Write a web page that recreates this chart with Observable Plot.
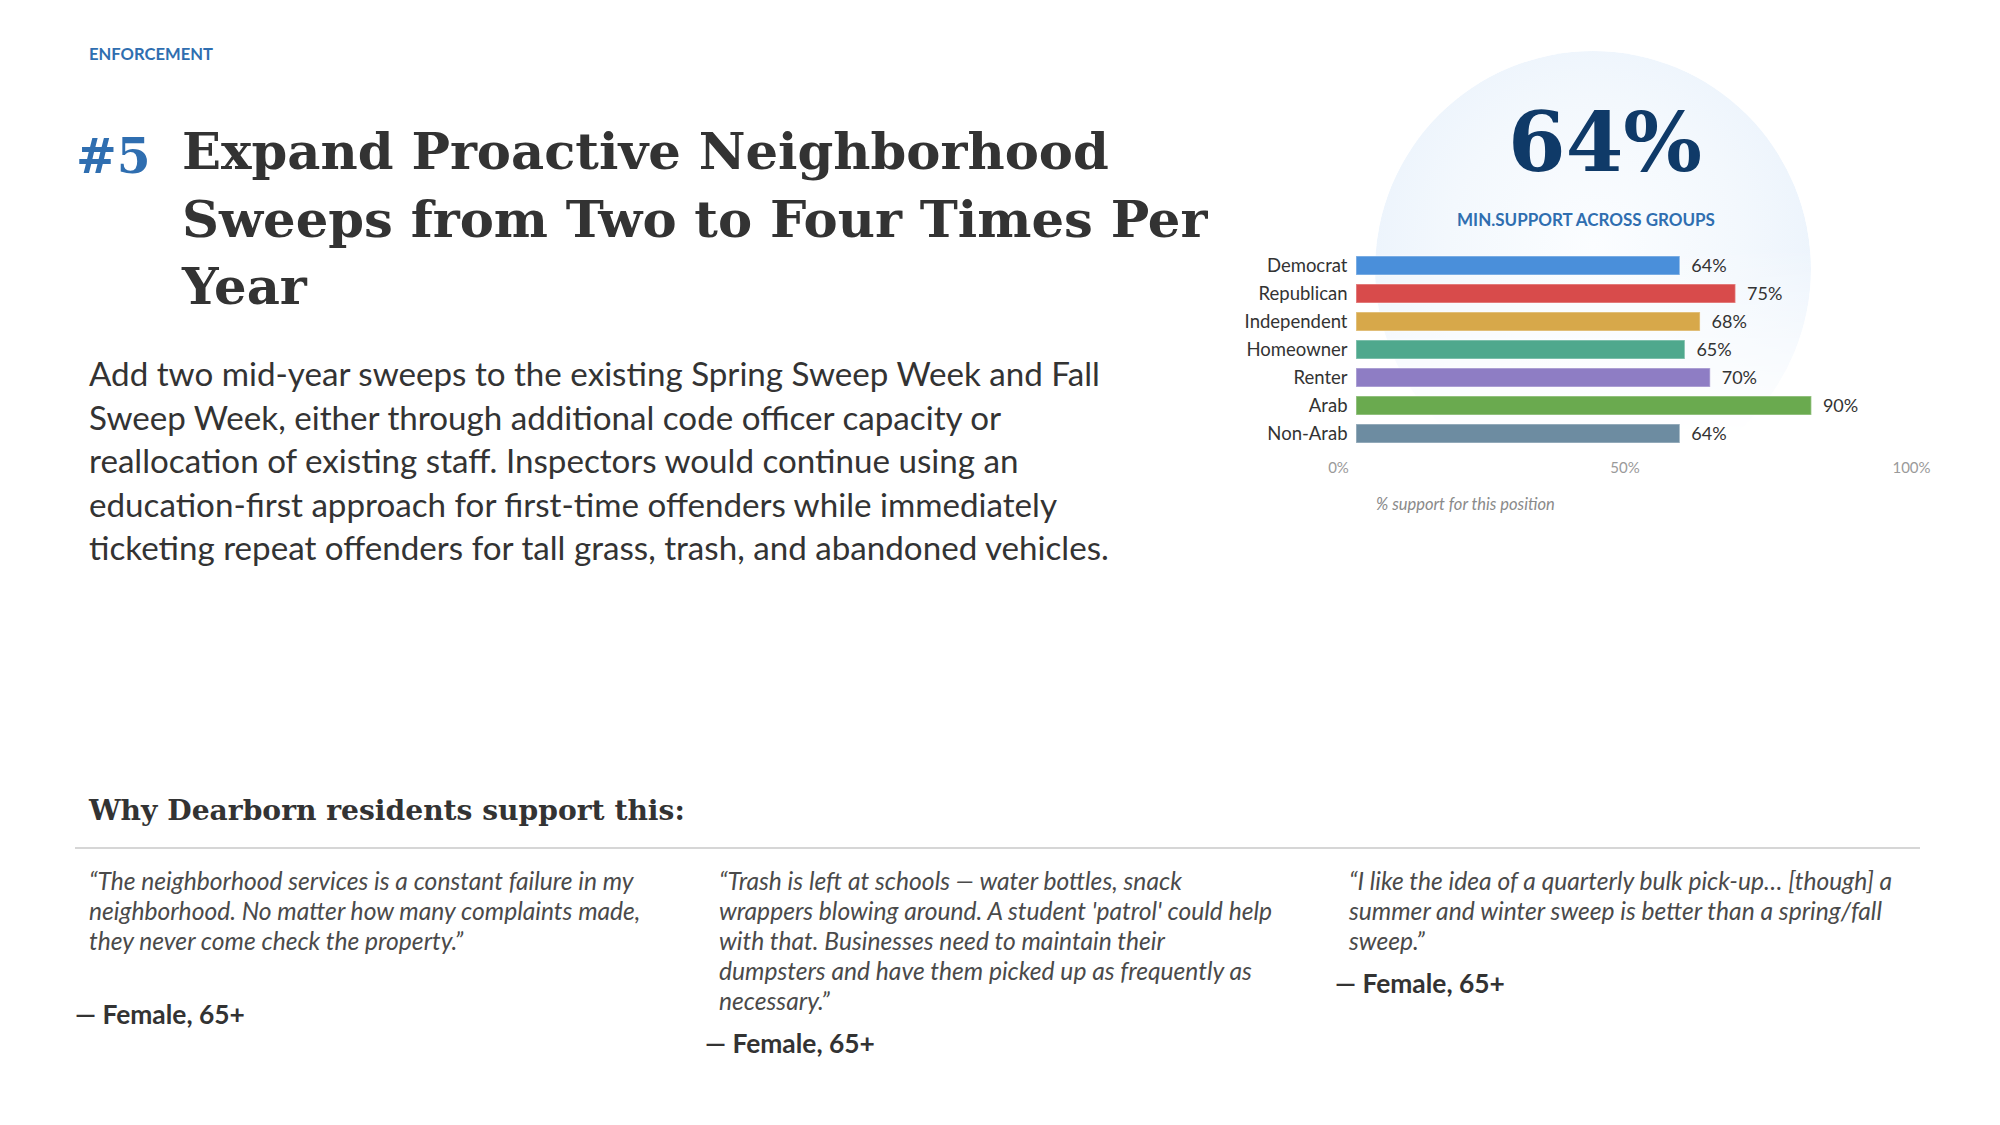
<!DOCTYPE html>
<html>
<head>
<meta charset="utf-8">
<script src="https://cdn.jsdelivr.net/npm/d3@7"></script>
<script src="https://cdn.jsdelivr.net/npm/@observablehq/plot@0.6"></script>
<style>
  html, body { margin: 0; padding: 0; background: #ffffff; }
  #page { position: relative; width: 2000px; height: 1125px; overflow: hidden; background: #fff; }
  .t { position: absolute; white-space: nowrap; line-height: 1; }
  .sans { font-family: Lato, "Open Sans", sans-serif; }
  .serif { font-family: "DejaVu Serif", serif; font-weight: bold; }
  #circle { position: absolute; left: 1375px; top: 51px; width: 436px; height: 436px; border-radius: 50%;
    background: radial-gradient(circle at 50% 45%, #fbfdff 0%, #f3f8fd 45%, #ebf3fc 75%, #e6f0fb 100%);
    -webkit-mask-image: linear-gradient(180deg, #000 0%, #000 45%, rgba(0,0,0,0.4) 70%, rgba(0,0,0,0) 88%);
    mask-image: linear-gradient(180deg, #000 0%, #000 45%, rgba(0,0,0,0.4) 70%, rgba(0,0,0,0) 88%); }
  #bars, #axis { position: absolute; overflow: visible; }
  #divider { position: absolute; left: 75px; top: 847px; width: 1845px; height: 2px; background: #d6d6d6; }
</style>
</head>
<body>
<div id="page">
  <div id="circle"></div>
  <div id="divider"></div>
</div>
<script>
// ---------------- data ----------------
const categories = ["Democrat", "Republican", "Independent", "Homeowner", "Renter", "Arab", "Non-Arab"];
const support = [64, 75, 68, 65, 70, 90, 64];
const barColors = ["#4a8fda", "#d84b4b", "#d7a84a", "#4fa88d", "#8e7dc4", "#6aaa4f", "#6d8ca1"];
const axisTicks = [0, 50, 100];

const kicker = "ENFORCEMENT";
const rank = "#5";
const titleLines = ["Expand Proactive Neighborhood", "Sweeps from Two to Four Times Per", "Year"];
const bodyLines = [
  "Add two mid-year sweeps to the existing Spring Sweep Week and Fall",
  "Sweep Week, either through additional code officer capacity or",
  "reallocation of existing staff. Inspectors would continue using an",
  "education-first approach for first-time offenders while immediately",
  "ticketing repeat offenders for tall grass, trash, and abandoned vehicles."
];
const whyHeading = "Why Dearborn residents support this:";
const quotes = [
  ["\u201CThe neighborhood services is a constant failure in my",
   "neighborhood. No matter how many complaints made,",
   "they never come check the property.\u201D"],
  ["\u201CTrash is left at schools \u2014 water bottles, snack",
   "wrappers blowing around. A student 'patrol' could help",
   "with that. Businesses need to maintain their",
   "dumpsters and have them picked up as frequently as",
   "necessary.\u201D"],
  ["\u201CI like the idea of a quarterly bulk pick-up\u2026 [though] a",
   "summer and winter sweep is better than a spring/fall",
   "sweep.\u201D"]
];
const attributions = ["\u2014 Female, 65+", "\u2014 Female, 65+", "\u2014 Female, 65+"];
const minLabel = "MIN.SUPPORT ACROSS GROUPS";
const axisCaption = "% support for this position";

// ---------------- helpers ----------------
const page = document.getElementById("page");
function addText(txt, cls, opts) {
  const el = document.createElement("div");
  el.className = "t " + cls;
  el.textContent = txt;
  el.style.fontSize = (opts.size || 20) + "px";
  if (opts.color) el.style.color = opts.color;
  if (opts.weight) el.style.fontWeight = opts.weight;
  if (opts.italic) el.style.fontStyle = "italic";
  page.appendChild(el);
  return el;
}
function fitSize(el, targetW) {
  const w = el.getBoundingClientRect().width;
  const fs = parseFloat(el.style.fontSize);
  return fs * targetW / w;
}
function place(el, x, cy, anchor) {
  const r = el.getBoundingClientRect();
  let left = x;
  if (anchor === "middle") left = x - r.width / 2;
  el.style.left = left + "px";
  el.style.top = (cy - r.height / 2) + "px";
}

// ---------------- header ----------------
const k = addText(kicker, "sans", {size: 16, color: "#2f6eb0", weight: 700});
k.style.fontSize = fitSize(k, 124) + "px"; place(k, 89, 54);

const t0 = addText(titleLines[0], "serif", {size: 56, color: "#333333"});
const titleSize = fitSize(t0, 927);
t0.remove();
const titleCY = [152, 220, 287];
titleLines.forEach((line, i) => {
  const el = addText(line, "serif", {size: titleSize, color: "#333333"});
  place(el, 182, titleCY[i]);
});
const rk = addText(rank, "serif", {size: titleSize * 0.95, color: "#2f6eb0"});
place(rk, 76, 156);

const b0 = addText(bodyLines[0], "sans", {size: 30, color: "#333333"});
const bodySize = fitSize(b0, 1011);
b0.remove();
const bodyCY = [374, 417.5, 461, 504.5, 548];
bodyLines.forEach((line, i) => {
  const el = addText(line, "sans", {size: bodySize, color: "#333333"});
  place(el, 89, bodyCY[i]);
});

const wh = addText(whyHeading, "serif", {size: 26, color: "#333333"});
wh.style.fontSize = fitSize(wh, 596) + "px"; place(wh, 89, 811);

// ---------------- quotes ----------------
const q0 = addText(quotes[0][0], "sans", {size: 22, color: "#4a4a4a", italic: true});
const quoteSize = fitSize(q0, 545);
q0.remove();
const quoteX = [89, 719, 1349];
const quoteCY = [881, 911, 941, 971, 1001];
quotes.forEach((lines, c) => {
  lines.forEach((line, i) => {
    const el = addText(line, "sans", {size: quoteSize, color: "#4a4a4a", italic: true});
    place(el, quoteX[c], quoteCY[i]);
  });
});
const a0 = addText(attributions[0], "sans", {size: 24, color: "#333333", weight: 700});
const attrSize = fitSize(a0, 170);
a0.remove();
const attrX = [75, 705, 1335];
const attrCY = [1014, 1043, 983];
attributions.forEach((a, c) => {
  const el = addText(a, "sans", {size: attrSize, color: "#333333", weight: 700});
  place(el, attrX[c], attrCY[c]);
});

// ---------------- stat ----------------
const big = addText(d3.min(support) + "%", "serif", {size: 90, color: "#0f3a68"});
big.style.fontSize = fitSize(big, 194) + "px"; place(big, 1605, 142, "middle");
const ml = addText(minLabel, "sans", {size: 17, color: "#2f6eb0", weight: 700});
ml.style.fontSize = fitSize(ml, 258) + "px"; place(ml, 1586, 219, "middle");

// ---------------- bar chart ----------------
const rows = categories.map((c, i) => ({category: c, value: support[i], color: barColors[i]}));
const bars = Plot.plot({
  width: 758,
  height: 230,
  marginLeft: 156,
  marginRight: 96,
  marginTop: 16,
  marginBottom: 7,
  style: {fontFamily: "Lato, 'Open Sans', sans-serif", background: "transparent", color: "#333", overflow: "visible"},
  x: {domain: [0, 100], axis: null},
  y: {domain: categories, padding: 0.32, label: null},
  color: {domain: categories, range: barColors},
  marks: [
    Plot.barX(rows, {x: "value", y: "category", fill: "category", stroke: "#ffffff", strokeOpacity: 0.35, strokeWidth: 1.5}),
    Plot.text(rows, {x: "value", y: "category", text: d => d.value + "%", textAnchor: "start", dx: 11, fontSize: 18, fill: "#333"}),
    Plot.axisY({tickSize: 0, tickPadding: 9, fontSize: 18.5, label: null, color: "#333"})
  ]
});
bars.id = "bars";
bars.style.left = "1200px";
bars.style.top = "230px";
page.appendChild(bars);

const axis = Plot.plot({
  width: 700,
  height: 30,
  marginLeft: 38,
  marginRight: 89,
  marginTop: 0,
  marginBottom: 0,
  style: {fontFamily: "Lato, 'Open Sans', sans-serif", background: "transparent", overflow: "visible"},
  x: {domain: [0, 100], axis: null},
  marks: [
    Plot.text(axisTicks, {x: d => d, text: d => d + "%", fontSize: 15, fill: "#9a9a9a", lineAnchor: "middle"})
  ]
});
axis.id = "axis";
axis.style.left = "1300px";
axis.style.top = "453px";
page.appendChild(axis);

const cap = addText(axisCaption, "sans", {size: 14, color: "#8a8a8a", italic: true});
cap.style.fontSize = fitSize(cap, 179) + "px"; place(cap, 1376, 504);
</script>
</body>
</html>
